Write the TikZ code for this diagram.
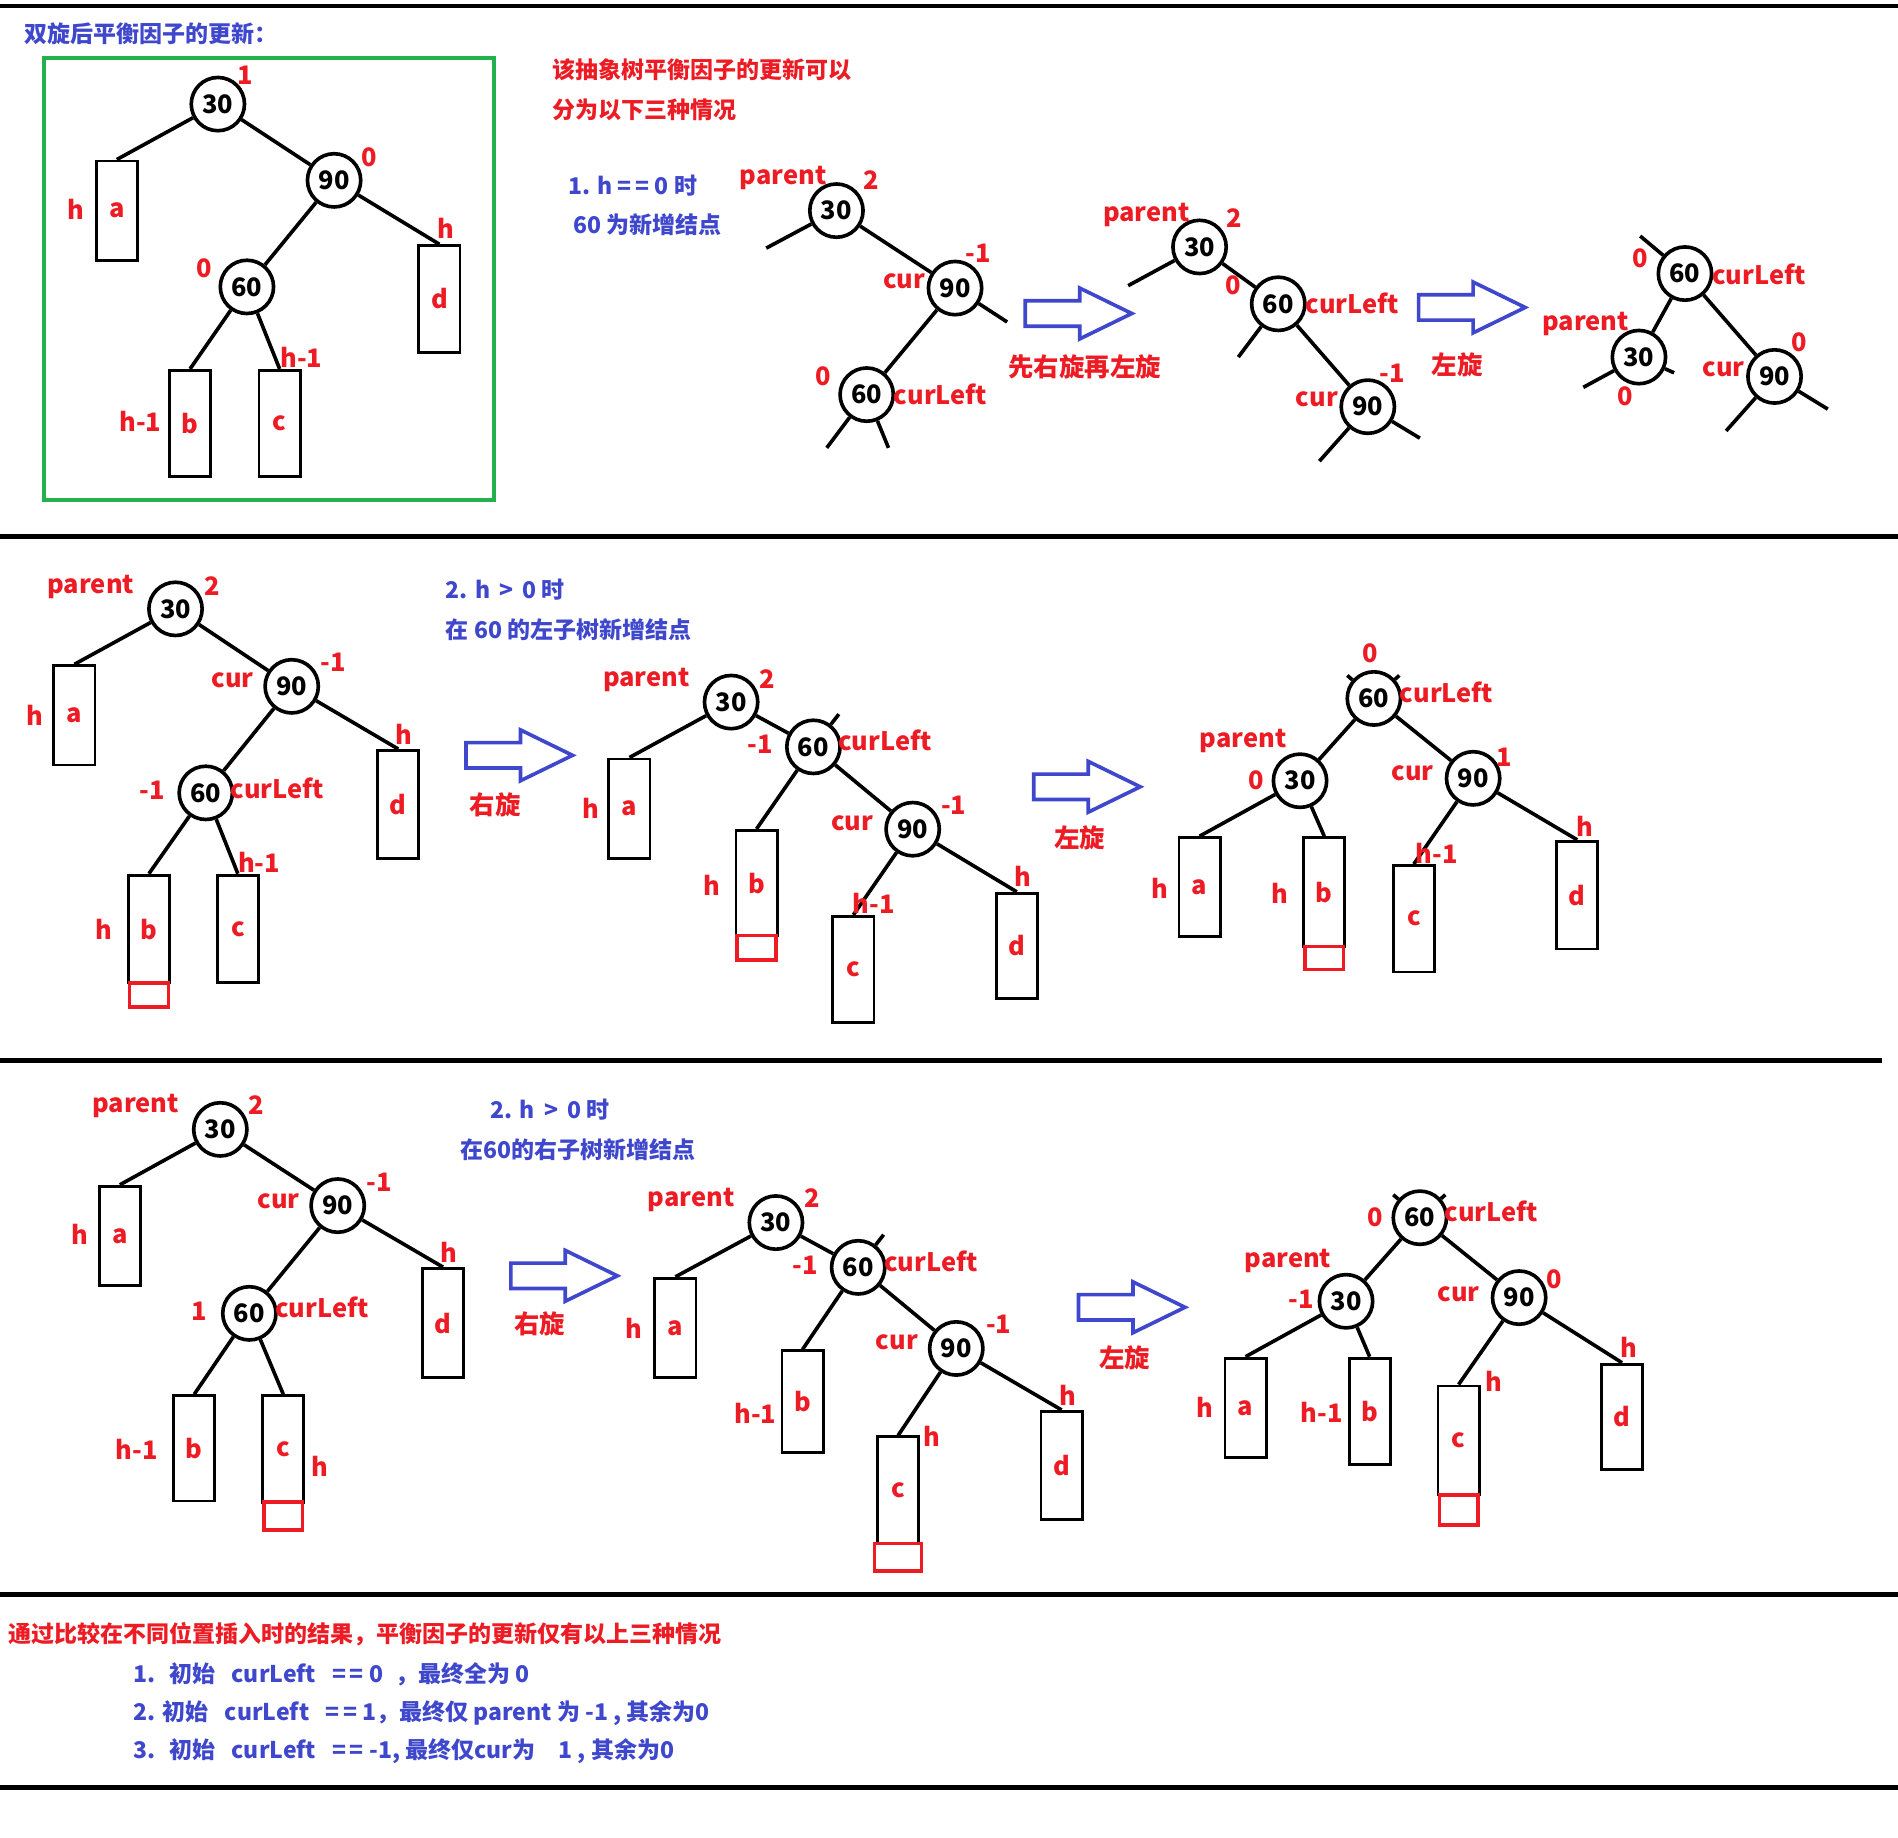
\documentclass[tikz,border=0pt]{standalone}
\usepackage{fontspec}
\setmainfont{Noto Sans CJK SC}
\definecolor{hlred}{RGB}{237,28,36}
\definecolor{hlblue}{RGB}{63,72,204}
\definecolor{boxgreen}{RGB}{34,177,76}
\tikzset{
  turn/.pic={\draw[hlblue,line width=1.5pt]
    (0,-10.5) -- (45,-10.5) -- (45,-21) -- (88,0) -- (45,21) -- (45,10.5) -- (0,10.5) -- cycle;}
}
\begin{document}
\begin{tikzpicture}[x=0.5pt,y=-0.5pt,
    nd/.style={circle,draw,line width=1.5pt,minimum size=22pt,inner sep=0pt,
               fill=white,font=\fontsize{10.5}{12}\selectfont\bfseries},
    sub/.style={draw,line width=1.2pt,minimum width=17pt,minimum height=#1,inner sep=0pt,
                text=hlred,font=\fontsize{10.5}{12}\selectfont\bfseries},
    newbox/.style={draw=hlred,line width=1.4pt,minimum width=16pt,minimum height=#1,inner sep=0pt},
    lbl/.style={text=hlred,inner sep=0pt,font=\fontsize{10.5}{12}\selectfont\bfseries},
    note/.style={text=hlblue,anchor=west,inner sep=0pt,font=\fontsize{9.5}{11}\selectfont\bfseries},
    warn/.style={text=hlred,anchor=west,inner sep=0pt,font=\fontsize{9.5}{11}\selectfont\bfseries},
    edge/.style={line width=1.5pt},
    sep/.style={line width=2pt}]
  \fill[white] (0,0) rectangle (1568,1518);
  \useasboundingbox (0,0) rectangle (1568,1518);

  % separators
  \draw[sep] (0,5) -- (1568,5);
  \draw[sep] (0,443) -- (1568,443);
  \draw[sep] (0,876) -- (1555,876);
  \draw[sep] (0,1317) -- (1568,1317);
  \draw[sep] (0,1477) -- (1568,1477);

  % ---- part 1: general tree ----
  \node[note] (title) at (20,28) {双旋后平衡因子的更新：};
  \draw[boxgreen,line width=1.6pt] (36,48) rectangle (408,413);
  \node[nd] (A30) at (180,86) {30};
  \node[nd] (A90) at (276,149) {90};
  \node[nd] (A60) at (204,237) {60};
  \node[sub=41pt] (Aa) at (96.5,174) {a};
  \node[sub=44pt] (Ad) at (363,247) {d};
  \node[sub=44pt] (Ab) at (157,350) {b};
  \node[sub=44pt] (Ac) at (231,350) {c};
  \draw[edge] (A30) -- (Aa.north);
  \draw[edge] (A30) -- (A90);
  \draw[edge] (A90) -- (Ad.north);
  \draw[edge] (A90) -- (A60);
  \draw[edge] (A60) -- (Ab.north);
  \draw[edge] (A60) -- (Ac.north);
  \node[lbl] (A30bf) at (203,62) {1};
  \node[lbl] (A90bf) at (305,130) {0};
  \node[lbl] (A60bf) at (169,222) {0};
  \node[lbl] (Aah) at (63,173) {h};
  \node[lbl] (Adh) at (368,189) {h};
  \node[lbl] (Abh) at (116,348) {h-1};
  \node[lbl] (Ach) at (249,295) {h-1};

  \node[warn] (intro1) at (456,58) {该抽象树平衡因子的更新可以};
  \node[warn] (intro2) at (456,91) {分为以下三种情况};
  \node[note] (case1a) at (469,153) {1. h =\,= 0 时};
  \node[note] (case1b) at (473,186) {60 为新增结点};

  % ---- case 1: h == 0 ----
  \node[nd] (B30) at (691,174) {30};
  \node[nd] (B90) at (789,238) {90};
  \node[nd] (B60) at (716,326) {60};
  \coordinate (B30l) at (633,205);
  \coordinate (B90r) at (832,266);
  \coordinate (B60l) at (683,370);
  \coordinate (B60r) at (734,370);
  \draw[edge] (B30) -- (B30l);
  \draw[edge] (B30) -- (B90);
  \draw[edge] (B90) -- (B90r);
  \draw[edge] (B90) -- (B60);
  \draw[edge] (B60) -- (B60l);
  \draw[edge] (B60) -- (B60r);
  \node[lbl] (Bpar) at (647,147) {parent};
  \node[lbl] (B30bf) at (720,149) {2};
  \node[lbl] (Bcur) at (747,232) {cur};
  \node[lbl] (B90bf) at (808,209) {-1};
  \node[lbl] (B60bf) at (680,311) {0};
  \node[lbl] (Bcl) at (777,326) {curLeft};

  \pic at (847,259) {turn};
  \node[lbl] (Brot) at (896,303) {先右旋再左旋};

  \node[nd] (E30) at (991,204) {30};
  \node[nd] (E60) at (1056,251) {60};
  \node[nd] (E90) at (1130,336) {90};
  \coordinate (E30l) at (932,236);
  \coordinate (E60l) at (1023,295);
  \coordinate (E90l) at (1090,381);
  \coordinate (E90r) at (1173,362);
  \draw[edge] (E30) -- (E30l);
  \draw[edge] (E30) -- (E60);
  \draw[edge] (E60) -- (E60l);
  \draw[edge] (E60) -- (E90);
  \draw[edge] (E90) -- (E90l);
  \draw[edge] (E90) -- (E90r);
  \node[lbl] (Epar) at (947,178) {parent};
  \node[lbl] (E30bf) at (1020,180) {2};
  \node[lbl] (E60bf) at (1019,236) {0};
  \node[lbl] (Ecl) at (1117,251) {curLeft};
  \node[lbl] (E90bf) at (1150,308) {-1};
  \node[lbl] (Ecur) at (1088,330) {cur};

  \pic at (1172,254) {turn};
  \node[lbl] (Erot) at (1204,301) {左旋};

  \node[nd] (F60) at (1392,226) {60};
  \node[nd] (F30) at (1354,295) {30};
  \node[nd] (F90) at (1466,311) {90};
  \coordinate (F60u) at (1355,195);
  \coordinate (F30l) at (1308,320);
  \coordinate (F30r) at (1383,308);
  \coordinate (F90l) at (1426,356);
  \coordinate (F90r) at (1510,338);
  \draw[edge] (F60) -- (F60u);
  \draw[edge] (F60) -- (F30);
  \draw[edge] (F60) -- (F90);
  \draw[edge] (F30) -- (F30l);
  \draw[edge] (F30) -- (F30r);
  \draw[edge] (F90) -- (F90l);
  \draw[edge] (F90) -- (F90r);
  \node[lbl] (F60bf) at (1355,213) {0};
  \node[lbl] (Fcl) at (1453,227) {curLeft};
  \node[lbl] (Fpar) at (1310,268) {parent};
  \node[lbl] (F30bf) at (1343,327) {0};
  \node[lbl] (Fcur) at (1424,305) {cur};
  \node[lbl] (F90bf) at (1486,283) {0};

  % ---- case 2: left subtree of 60 ----
  \node[nd] (C30) at (145,503) {30};
  \node[nd] (C90) at (241,567) {90};
  \node[nd] (C60) at (170,655) {60};
  \node[sub=41pt] (Ca) at (61.5,591) {a};
  \node[sub=44.5pt] (Cd) at (329,664.5) {d};
  \node[sub=44.5pt] (Cb) at (123,767.5) {b};
  \node[sub=44.5pt] (Cc) at (196.5,767.5) {c};
  \node[newbox=10pt] (Cn) at (123,822) {};
  \draw[edge] (C30) -- (Ca.north);
  \draw[edge] (C30) -- (C90);
  \draw[edge] (C90) -- (Cd.north);
  \draw[edge] (C90) -- (C60);
  \draw[edge] (C60) -- (Cb.north);
  \draw[edge] (C60) -- (Cc.north);
  \node[lbl] (Cpar) at (75,485) {parent};
  \node[lbl] (C30bf) at (175,484) {2};
  \node[lbl] (Cah) at (29,591) {h};
  \node[lbl] (Ccur) at (192,562) {cur};
  \node[lbl] (C90bf) at (275,547) {-1};
  \node[lbl] (Cdh) at (334,607) {h};
  \node[lbl] (C60bf) at (126,653) {-1};
  \node[lbl] (Ccl) at (229,651) {curLeft};
  \node[lbl] (Cbh) at (86,768) {h};
  \node[lbl] (Cch) at (214,712) {h-1};

  \node[note] (case2a) at (368,487) {2. h \,>\, 0 时};
  \node[note] (case2b) at (368,520) {在 60 的左子树新增结点};

  \pic at (385,624) {turn};
  \node[lbl] (Crot) at (409,665) {右旋};

  \node[nd] (G30) at (604,580) {30};
  \node[nd] (G60) at (672,617) {60};
  \node[nd] (G90) at (754,685) {90};
  \node[sub=41pt] (Ga) at (520,668) {a};
  \node[sub=43.5pt] (Gb) at (625,729.5) {b};
  \node[sub=44pt] (Gc) at (705,801) {c};
  \node[sub=43.5pt] (Gd) at (840,781.5) {d};
  \node[newbox=10pt] (Gn) at (625,783) {};
  \coordinate (G60t) at (693,590);
  \draw[edge] (G30) -- (Ga.north);
  \draw[edge] (G30) -- (G60);
  \draw[edge] (G60) -- (G60t);
  \draw[edge] (G60) -- (Gb.north);
  \draw[edge] (G60) -- (G90);
  \draw[edge] (G90) -- (Gc.north);
  \draw[edge] (G90) -- (Gd.north);
  \node[lbl] (Gpar) at (534,562) {parent};
  \node[lbl] (G30bf) at (634,561) {2};
  \node[lbl] (Gah) at (488,668) {h};
  \node[lbl] (G60bf) at (628,615) {-1};
  \node[lbl] (Gcl) at (731,612) {curLeft};
  \node[lbl] (Gbh) at (588,731) {h};
  \node[lbl] (Gcur) at (704,680) {cur};
  \node[lbl] (G90bf) at (788,665) {-1};
  \node[lbl] (Gch) at (722,746) {h-1};
  \node[lbl] (Gdh) at (845,724) {h};

  \pic at (854,650) {turn};
  \node[lbl] (Grot) at (892,692) {左旋};

  \node[nd] (H60) at (1135,577) {60};
  \node[nd] (H30) at (1074,645) {30};
  \node[nd] (H90) at (1217,643) {90};
  \node[sub=41pt] (Ha) at (991,733) {a};
  \node[sub=45pt] (Hb) at (1094,737) {b};
  \node[sub=44pt] (Hc) at (1168,759) {c};
  \node[sub=44.5pt] (Hd) at (1303,739.5) {d};
  \node[newbox=9.5pt] (Hn) at (1094,791.5) {};
  \coordinate (H60l) at (1113,558);
  \coordinate (H60r) at (1156,558);
  \draw[edge] (H60) -- (H60l);
  \draw[edge] (H60) -- (H60r);
  \draw[edge] (H60) -- (H30);
  \draw[edge] (H60) -- (H90);
  \draw[edge] (H30) -- (Ha.north);
  \draw[edge] (H30) -- (Hb.north);
  \draw[edge] (H90) -- (Hc.north);
  \draw[edge] (H90) -- (Hd.north);
  \node[lbl] (H60bf) at (1132,540) {0};
  \node[lbl] (Hcl) at (1195,572) {curLeft};
  \node[lbl] (Hpar) at (1027,612) {parent};
  \node[lbl] (H30bf) at (1038,645) {0};
  \node[lbl] (Hah) at (958,734) {h};
  \node[lbl] (Hbh) at (1057,738) {h};
  \node[lbl] (Hcur) at (1167,639) {cur};
  \node[lbl] (H90bf) at (1243,626) {1};
  \node[lbl] (Hch) at (1187,705) {h-1};
  \node[lbl] (Hdh) at (1309,683) {h};

  % ---- case 3: right subtree of 60 ----
  \node[nd] (D30) at (182,933) {30};
  \node[nd] (D90) at (279,996) {90};
  \node[nd] (D60) at (206,1085) {60};
  \node[sub=41pt] (Da) at (99,1021) {a};
  \node[sub=45pt] (Dd) at (366,1093) {d};
  \node[sub=43.5pt] (Db) at (160.5,1196.5) {b};
  \node[sub=44pt] (Dc) at (234,1197) {c};
  \node[newbox=11.5pt] (Dn) at (234,1252.5) {};
  \draw[edge] (D30) -- (Da.north);
  \draw[edge] (D30) -- (D90);
  \draw[edge] (D90) -- (Dd.north);
  \draw[edge] (D90) -- (D60);
  \draw[edge] (D60) -- (Db.north);
  \draw[edge] (D60) -- (Dc.north);
  \node[lbl] (Dpar) at (112,914) {parent};
  \node[lbl] (D30bf) at (212,913) {2};
  \node[lbl] (Dah) at (66,1020) {h};
  \node[lbl] (Dcur) at (230,992) {cur};
  \node[lbl] (D90bf) at (313,977) {-1};
  \node[lbl] (Ddh) at (371,1035) {h};
  \node[lbl] (D60bf) at (165,1083) {1};
  \node[lbl] (Dcl) at (266,1080) {curLeft};
  \node[lbl] (Dbh) at (113,1197) {h-1};
  \node[lbl] (Dch) at (264,1211) {h};

  \node[note] (case3a) at (405,917) {2. h \,>\, 0 时};
  \node[note] (case3b) at (380,950) {在60的右子树新增结点};

  \pic at (422,1054) {turn};
  \node[lbl] (Drot) at (446,1094) {右旋};

  \node[nd] (K30) at (641,1010) {30};
  \node[nd] (K60) at (709,1047) {60};
  \node[nd] (K90) at (790,1114) {90};
  \node[sub=41pt] (Ka) at (558,1097) {a};
  \node[sub=42pt] (Kb) at (663,1158) {b};
  \node[sub=44pt] (Kc) at (742,1231) {c};
  \node[sub=44.5pt] (Kd) at (877,1210.5) {d};
  \node[newbox=11.5pt,minimum width=19.5pt] (Kn) at (742,1286.5) {};
  \coordinate (K60t) at (730,1020);
  \draw[edge] (K30) -- (Ka.north);
  \draw[edge] (K30) -- (K60);
  \draw[edge] (K60) -- (K60t);
  \draw[edge] (K60) -- (Kb.north);
  \draw[edge] (K60) -- (K90);
  \draw[edge] (K90) -- (Kc.north);
  \draw[edge] (K90) -- (Kd.north);
  \node[lbl] (Kpar) at (571,991) {parent};
  \node[lbl] (K30bf) at (671,990) {2};
  \node[lbl] (Kah) at (524,1097) {h};
  \node[lbl] (K60bf) at (665,1045) {-1};
  \node[lbl] (Kcl) at (769,1042) {curLeft};
  \node[lbl] (Kbh) at (624,1168) {h-1};
  \node[lbl] (Kcur) at (741,1109) {cur};
  \node[lbl] (K90bf) at (825,1094) {-1};
  \node[lbl] (Kch) at (770,1187) {h};
  \node[lbl] (Kdh) at (882,1153) {h};

  \pic at (891,1080) {turn};
  \node[lbl] (Krot) at (929,1122) {左旋};

  \node[nd] (L60) at (1173,1006) {60};
  \node[nd] (L30) at (1112,1075) {30};
  \node[nd] (L90) at (1255,1072) {90};
  \node[sub=41pt] (La) at (1029,1163) {a};
  \node[sub=44pt] (Lb) at (1131.5,1166) {b};
  \node[sub=45pt] (Lc) at (1205,1190) {c};
  \node[sub=43.5pt] (Ld) at (1340,1170.5) {d};
  \node[newbox=12.5pt] (Ln) at (1205,1247.5) {};
  \coordinate (L60l) at (1151,987);
  \coordinate (L60r) at (1194,987);
  \draw[edge] (L60) -- (L60l);
  \draw[edge] (L60) -- (L60r);
  \draw[edge] (L60) -- (L30);
  \draw[edge] (L60) -- (L90);
  \draw[edge] (L30) -- (La.north);
  \draw[edge] (L30) -- (Lb.north);
  \draw[edge] (L90) -- (Lc.north);
  \draw[edge] (L90) -- (Ld.north);
  \node[lbl] (L60bf) at (1136,1006) {0};
  \node[lbl] (Lcl) at (1232,1001) {curLeft};
  \node[lbl] (Lpar) at (1064,1042) {parent};
  \node[lbl] (L30bf) at (1075,1073) {-1};
  \node[lbl] (Lah) at (995,1163) {h};
  \node[lbl] (Lbh) at (1092,1167) {h-1};
  \node[lbl] (Lcur) at (1205,1069) {cur};
  \node[lbl] (L90bf) at (1284,1057) {0};
  \node[lbl] (Lch) at (1234,1141) {h};
  \node[lbl] (Ldh) at (1346,1113) {h};

  % ---- summary ----
  \node[warn] (sum) at (7,1350) {通过比较在不同位置插入时的结果，平衡因子的更新仅有以上三种情况};
  \node[note] (sum1) at (110,1383) {1.\hspace{0.6em}初始\hspace{0.7em}curLeft\hspace{0.7em}=\,= 0 \hspace{0.3em}，最终全为 0};
  \node[note] (sum2) at (110,1415) {2. 初始\hspace{0.7em}curLeft\hspace{0.7em}=\,= 1，最终仅 parent 为 -1 , 其余为0};
  \node[note] (sum3) at (110,1447) {3.\hspace{0.6em}初始\hspace{0.7em}curLeft\hspace{0.7em}=\,= -1, 最终仅cur为\hspace{1em}1 , 其余为0};
\end{tikzpicture}
\end{document}
